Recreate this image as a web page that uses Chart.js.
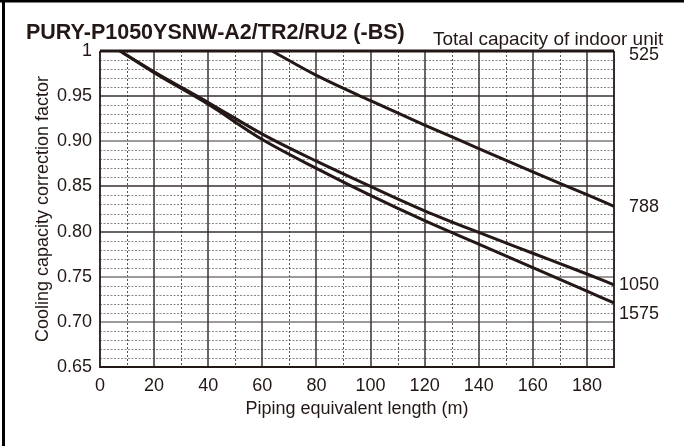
<!DOCTYPE html>
<html><head><meta charset="utf-8">
<script src="https://cdn.jsdelivr.net/npm/chart.js@4.4.1/dist/chart.umd.min.js"></script>
<style>html,body{margin:0;padding:0;background:#fff;}#wrap{width:684px;height:446px;position:relative;}</style>
</head><body><div id="wrap"><canvas id="c" width="684" height="446"></canvas></div>
<script>
// ---- data ----
const chartTitle = 'PURY-P1050YSNW-A2/TR2/RU2 (-BS)';
const legendTitle = 'Total capacity of indoor unit';
const xAxisTitle = 'Piping equivalent length (m)';
const yAxisTitle = 'Cooling capacity correction factor';
const seriesNames = ['525', '788', '1050', '1575'];
const len525 = [0, 190];
const cf525 = [1.0, 1.0];
const len788 = [63.6, 80, 100, 120, 140, 160, 180, 190];
const cf788 = [1.0, 0.973, 0.945, 0.918, 0.892, 0.866, 0.841, 0.828];
const len1050 = [7.4, 20, 40, 60, 80, 100, 120, 140, 160, 180, 190];
const cf1050 = [1.0, 0.977, 0.943, 0.908, 0.878, 0.850, 0.823, 0.799, 0.776, 0.753, 0.741];
const len1575 = [7.4, 20, 40, 60, 80, 100, 120, 140, 160, 180, 190];
const cf1575 = [1.0, 0.976, 0.941, 0.902, 0.870, 0.840, 0.812, 0.786, 0.760, 0.734, 0.721];
const xTicks = [0, 20, 40, 60, 80, 100, 120, 140, 160, 180];
const yTicks = [0.65, 0.70, 0.75, 0.80, 0.85, 0.90, 0.95, 1.0];
const yTickLabels = ['0.65', '0.70', '0.75', '0.80', '0.85', '0.90', '0.95', '1'];
const xMinorTicks = [10, 30, 50, 70, 90, 110, 130, 150, 170];
const yMinorStep = 0.01;

// ---- style ----
const INK = '#231815';
const FONT = '"Liberation Sans", Arial, Helvetica, sans-serif';
const toPts = (xs, ys) => xs.map((x, i) => ({x, y: ys[i]}));

const gridPlugin = {
  id: 'grid',
  beforeDatasetsDraw(chart) {
    const {ctx, chartArea: a, scales: {x, y}} = chart;
    const px = v => Math.round(x.getPixelForValue(v)) + 0.5;
    const py = v => Math.round(y.getPixelForValue(v)) + 0.5;
    ctx.save();
    // minor horizontal dotted
    ctx.strokeStyle = '#8a8585'; ctx.lineWidth = 1; ctx.setLineDash([2, 1.5]);
    for (let k = 66; k < 100; k++) {
      if (k % 5 === 0) continue;
      const yy = py(k * yMinorStep);
      ctx.beginPath(); ctx.moveTo(a.left, yy); ctx.lineTo(a.right, yy); ctx.stroke();
    }
    // minor vertical dashed
    ctx.strokeStyle = '#5a5555'; ctx.setLineDash([2, 2]);
    xMinorTicks.forEach(v => {
      const xx = px(v);
      ctx.beginPath(); ctx.moveTo(xx, a.top); ctx.lineTo(xx, a.bottom); ctx.stroke();
    });
    ctx.setLineDash([]);
    // major horizontal
    yTicks.forEach(v => {
      if (v === 1 || v === 0.65) return;
      const gray = (Math.abs(v - 0.90) < 1e-6 || Math.abs(v - 0.75) < 1e-6 || Math.abs(v - 0.70) < 1e-6);
      ctx.strokeStyle = gray ? '#7e7878' : '#3a3030';
      ctx.lineWidth = 1.5;
      const yy = Math.round(y.getPixelForValue(v));
      ctx.beginPath(); ctx.moveTo(a.left, yy); ctx.lineTo(a.right, yy); ctx.stroke();
    });
    // major vertical
    ctx.strokeStyle = '#3a3030'; ctx.lineWidth = 1.5;
    xTicks.forEach(v => {
      if (v === 0) return;
      const xx = Math.round(x.getPixelForValue(v));
      ctx.beginPath(); ctx.moveTo(xx, a.top); ctx.lineTo(xx, a.bottom); ctx.stroke();
    });
    // frame
    ctx.strokeStyle = INK; ctx.lineWidth = 1.8;
    const l = Math.round(x.getPixelForValue(0)), r = Math.round(x.getPixelForValue(190));
    const b = Math.round(y.getPixelForValue(0.65)), t = Math.round(y.getPixelForValue(1));
    ctx.beginPath(); ctx.moveTo(l, t); ctx.lineTo(l, b); ctx.lineTo(r, b); ctx.lineTo(r, t); ctx.stroke();
    ctx.restore();
  }
};

const labelPlugin = {
  id: 'endLabels',
  afterDatasetsDraw(chart) {
    const {ctx, scales: {y}} = chart;
    const offsets = [4, 1, 0, 11];
    ctx.save();
    ctx.font = '18px ' + FONT; ctx.fillStyle = INK;
    ctx.textAlign = 'right'; ctx.textBaseline = 'middle';
    chart.data.datasets.forEach((ds, i) => {
      const last = ds.data[ds.data.length - 1];
      ctx.fillText(seriesNames[i], 659, y.getPixelForValue(last.y) + offsets[i]);
    });
    // header texts
    ctx.textAlign = 'left'; ctx.textBaseline = 'alphabetic';
    ctx.font = 'bold 21.5px ' + FONT;
    ctx.fillText(chartTitle, 26, 39);
    ctx.font = '19px ' + FONT;
    ctx.fillText(legendTitle, 433, 45);
    // outer frame
    ctx.fillStyle = '#000';
    ctx.fillRect(2, 0, 3, 446);
    ctx.fillRect(0, 0, 684, 2.5);
    ctx.restore();
  }
};

const lineStyle = {borderColor: INK, borderWidth: 3, pointRadius: 0, fill: false, showLine: true,
  cubicInterpolationMode: 'monotone', clip: false};

new Chart(document.getElementById('c'), {
  type: 'scatter',
  data: {
    datasets: [
      Object.assign({label: seriesNames[0], data: toPts(len525, cf525)}, lineStyle),
      Object.assign({label: seriesNames[1], data: toPts(len788, cf788)}, lineStyle),
      Object.assign({label: seriesNames[2], data: toPts(len1050, cf1050)}, lineStyle),
      Object.assign({label: seriesNames[3], data: toPts(len1575, cf1575)}, lineStyle)
    ]
  },
  options: {
    responsive: false, animation: false, devicePixelRatio: 1,
    layout: {padding: {left: 0, top: 51, right: 70, bottom: 0}},
    plugins: {legend: {display: false}, tooltip: {enabled: false}, title: {display: false}},
    scales: {
      x: {
        type: 'linear', min: 0, max: 190,
        afterBuildTicks: s => { s.ticks = xTicks.map(v => ({value: v})); },
        afterFit: s => { s.height = 79; },
        grid: {display: false, drawTicks: false}, border: {display: false},
        ticks: {font: {size: 18, family: FONT}, color: INK, padding: 8, maxRotation: 0, autoSkip: false},
        title: {display: true, text: xAxisTitle, color: INK, font: {size: 18, family: FONT}, padding: {top: 0, bottom: 26}}
      },
      y: {
        type: 'linear', min: 0.65, max: 1.0,
        afterBuildTicks: s => { s.ticks = yTicks.map(v => ({value: v})); },
        afterFit: s => { s.width = 100; },
        grid: {display: false, drawTicks: false}, border: {display: false},
        ticks: {font: {size: 18, family: FONT}, color: INK, padding: 8, autoSkip: false,
          callback: (v, i) => yTickLabels[i]},
        title: {display: true, text: yAxisTitle, color: INK, font: {size: 18, family: FONT}, padding: {top: 32, bottom: 0}}
      }
    }
  },
  plugins: [gridPlugin, labelPlugin]
});
</script></body></html>
